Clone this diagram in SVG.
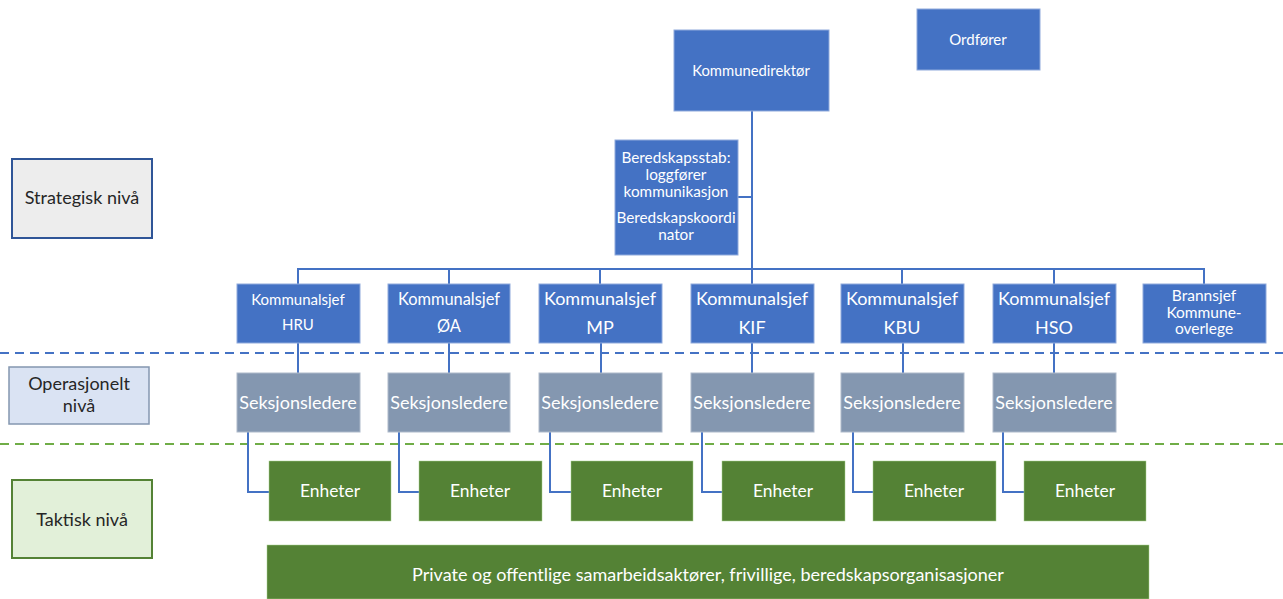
<svg xmlns="http://www.w3.org/2000/svg" width="1283" height="599" viewBox="0 0 1283 599">
<style>
text{font-family:Lato,"Noto Sans",sans-serif;text-anchor:middle;}
.b{fill:#4472C4;stroke:#8FAADC;stroke-width:1;}
.s{fill:#8497B0;stroke:#ADB9CA;stroke-width:1;}
.e{fill:#548235;stroke:#A9D18E;stroke-width:0.5;}
.w{fill:#fff;}
.c{fill:none;stroke:#4472C4;stroke-width:2;}
.d{fill:none;stroke:#4472C4;stroke-width:2;stroke-dasharray:9 6;}
.dg{fill:none;stroke:#70AD47;stroke-width:2;stroke-dasharray:9 6;}
.lv{fill:#262626;font-size:18px;}
</style>
<rect width="1283" height="599" fill="#fff"/>
<g id="levels">
<g id="strategisk"><rect x="12" y="159" width="140" height="79" fill="#EDEDED" stroke="#2F5597" stroke-width="2"/><text class="lv" x="82" y="204">Strategisk nivå</text></g>
<g id="operasjonelt"><rect x="9" y="367" width="140" height="57" fill="#DAE3F3" stroke="#8497B0" stroke-width="1.5"/><text class="lv" x="79" y="390">Operasjonelt</text><text class="lv" x="79" y="412">nivå</text></g>
<g id="taktisk"><rect x="12" y="480" width="140" height="78" fill="#E2F0D9" stroke="#548235" stroke-width="2"/><text class="lv" x="82" y="526">Taktisk nivå</text></g>
</g>
<g id="dividers">
<line class="d" x1="0" y1="353" x2="1283" y2="353"/>
<line class="dg" x1="0" y1="444" x2="1283" y2="444"/>
</g>
<g id="connectors">
<line class="c" x1="752" y1="111" x2="752" y2="284"/>
<line class="c" x1="738" y1="197" x2="752" y2="197"/>
<line class="c" x1="297" y1="269" x2="1205" y2="269"/>
<line class="c" x1="298" y1="268" x2="298" y2="284"/>
<line class="c" x1="449" y1="269" x2="449" y2="284"/>
<line class="c" x1="600" y1="269" x2="600" y2="284"/>
<line class="c" x1="902" y1="269" x2="902" y2="284"/>
<line class="c" x1="1054" y1="269" x2="1054" y2="284"/>
<line class="c" x1="1204" y1="268" x2="1204" y2="284"/>
<line class="c" x1="298" y1="343" x2="298" y2="373"/>
<line class="c" x1="449" y1="343" x2="449" y2="373"/>
<line class="c" x1="601" y1="343" x2="601" y2="373"/>
<line class="c" x1="752" y1="343" x2="752" y2="373"/>
<line class="c" x1="903" y1="343" x2="903" y2="373"/>
<line class="c" x1="1054" y1="343" x2="1054" y2="373"/>
<path class="c" d="M248 432V492H269"/>
<path class="c" d="M399 432V492H419"/>
<path class="c" d="M550 432V492H571"/>
<path class="c" d="M702 432V492H722"/>
<path class="c" d="M853 432V492H873"/>
<path class="c" d="M1003 432V492H1024"/>
</g>
<g id="kommunedirektor"><rect class="b" x="674" y="30" width="155" height="81"/><text class="w" x="751" y="76" font-size="14.8">Kommunedirektør</text></g>
<g id="ordforer"><rect class="b" x="917" y="9" width="123" height="61"/><text class="w" x="978" y="45" font-size="15">Ordfører</text></g>
<g id="beredskapsstab"><rect class="b" x="615" y="140" width="123" height="115"/>
<text class="w" x="676" y="163" font-size="15.3">Beredskapsstab:</text>
<text class="w" x="676" y="180" font-size="15.3">loggfører</text>
<text class="w" x="676" y="197" font-size="15.3">kommunikasjon</text>
<text class="w" x="676" y="223" font-size="15.3">Beredskapskoordi</text>
<text class="w" x="676" y="240" font-size="15.3">nator</text></g>
<g id="ks-hru"><rect class="b" x="237" y="284" width="123" height="59"/><text class="w" x="298" y="305" font-size="15">Kommunalsjef</text><text class="w" x="298" y="330" font-size="15">HRU</text></g>
<g id="ks-oa"><rect class="b" x="388" y="284" width="122" height="59"/><text class="w" x="449" y="305" font-size="16.4">Kommunalsjef</text><text class="w" x="449" y="332" font-size="16.4">ØA</text></g>
<g id="ks-mp"><rect class="b" x="539" y="284" width="123" height="59"/><text class="w" x="600" y="305" font-size="18">Kommunalsjef</text><text class="w" x="600" y="334" font-size="18">MP</text></g>
<g id="ks-kif"><rect class="b" x="691" y="284" width="123" height="59"/><text class="w" x="752" y="305" font-size="18">Kommunalsjef</text><text class="w" x="752" y="334" font-size="18">KIF</text></g>
<g id="ks-kbu"><rect class="b" x="841" y="284" width="123" height="59"/><text class="w" x="902" y="305" font-size="18">Kommunalsjef</text><text class="w" x="902" y="334" font-size="18">KBU</text></g>
<g id="ks-hso"><rect class="b" x="993" y="284" width="123" height="59"/><text class="w" x="1054" y="305" font-size="18">Kommunalsjef</text><text class="w" x="1054" y="334" font-size="18">HSO</text></g>
<g id="brannsjef"><rect class="b" x="1143" y="284" width="123" height="59"/><text class="w" x="1204" y="301" font-size="15.5">Brannsjef</text><text class="w" x="1204" y="318" font-size="15.5">Kommune-</text><text class="w" x="1204" y="334" font-size="15.5">overlege</text></g>
<g id="sl-1"><rect class="s" x="237" y="373" width="123" height="59"/><text class="w" x="298" y="409" font-size="18">Seksjonsledere</text></g>
<g id="sl-2"><rect class="s" x="388" y="373" width="122" height="59"/><text class="w" x="449" y="409" font-size="18">Seksjonsledere</text></g>
<g id="sl-3"><rect class="s" x="539" y="373" width="123" height="59"/><text class="w" x="600" y="409" font-size="18">Seksjonsledere</text></g>
<g id="sl-4"><rect class="s" x="691" y="373" width="123" height="59"/><text class="w" x="752" y="409" font-size="18">Seksjonsledere</text></g>
<g id="sl-5"><rect class="s" x="841" y="373" width="123" height="59"/><text class="w" x="902" y="409" font-size="18">Seksjonsledere</text></g>
<g id="sl-6"><rect class="s" x="993" y="373" width="123" height="59"/><text class="w" x="1054" y="409" font-size="18">Seksjonsledere</text></g>
<g id="en-1"><rect class="e" x="269" y="461" width="122" height="60"/><text class="w" x="330" y="497" font-size="17.4">Enheter</text></g>
<g id="en-2"><rect class="e" x="419" y="461" width="123" height="60"/><text class="w" x="480" y="497" font-size="17.4">Enheter</text></g>
<g id="en-3"><rect class="e" x="571" y="461" width="122" height="60"/><text class="w" x="632" y="497" font-size="17.4">Enheter</text></g>
<g id="en-4"><rect class="e" x="722" y="461" width="123" height="60"/><text class="w" x="783" y="497" font-size="17.4">Enheter</text></g>
<g id="en-5"><rect class="e" x="873" y="461" width="123" height="60"/><text class="w" x="934" y="497" font-size="17.4">Enheter</text></g>
<g id="en-6"><rect class="e" x="1024" y="461" width="122" height="60"/><text class="w" x="1085" y="497" font-size="17.4">Enheter</text></g>
<g id="samarbeid"><rect class="e" x="267" y="545" width="882" height="54"/><text class="w" x="708" y="581" font-size="18">Private og offentlige samarbeidsaktører, frivillige, beredskapsorganisasjoner</text></g>
</svg>
